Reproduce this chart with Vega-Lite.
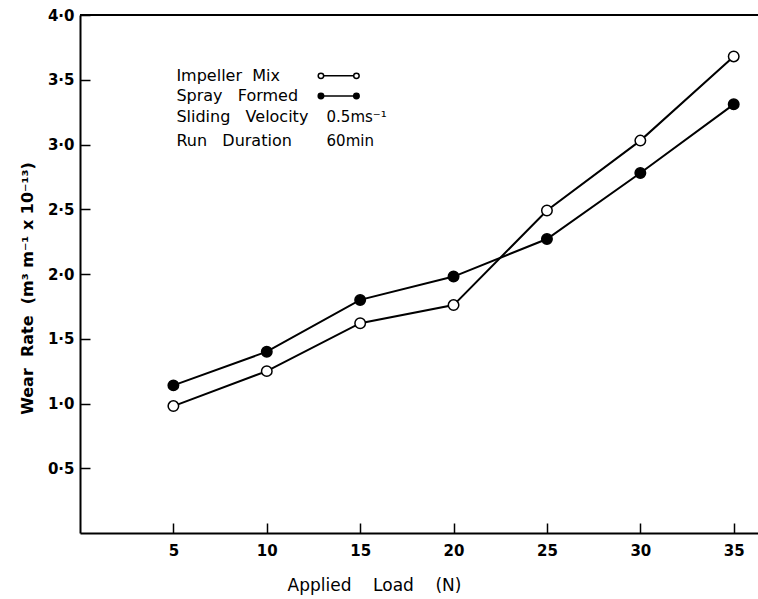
{
  "$schema": "https://vega.github.io/schema/vega-lite/v6.json",
  "autosize": "none",
  "width": 678,
  "height": 518,
  "padding": {"left": 80, "top": 15, "right": 0, "bottom": 66},
  "background": "white",
  "config": {
    "view": {"stroke": null},
    "font": "DejaVu Sans"
  },
  "datasets": {
    "wear": [
      {"load": 5, "wear": 0.98, "series": "Impeller Mix"},
      {"load": 10, "wear": 1.25, "series": "Impeller Mix"},
      {"load": 15, "wear": 1.62, "series": "Impeller Mix"},
      {"load": 20, "wear": 1.76, "series": "Impeller Mix"},
      {"load": 25, "wear": 2.49, "series": "Impeller Mix"},
      {"load": 30, "wear": 3.03, "series": "Impeller Mix"},
      {"load": 35, "wear": 3.68, "series": "Impeller Mix"},
      {"load": 5, "wear": 1.14, "series": "Spray Formed"},
      {"load": 10, "wear": 1.40, "series": "Spray Formed"},
      {"load": 15, "wear": 1.80, "series": "Spray Formed"},
      {"load": 20, "wear": 1.98, "series": "Spray Formed"},
      {"load": 25, "wear": 2.27, "series": "Spray Formed"},
      {"load": 30, "wear": 2.78, "series": "Spray Formed"},
      {"load": 35, "wear": 3.31, "series": "Spray Formed"}
    ],
    "one": [{"k": 1}]
  },
  "resolve": {"axis": {"x": "independent", "y": "independent"}},
  "layer": [
    {
      "data": {"name": "wear"},
      "mark": {"type": "line", "color": "black", "strokeWidth": 2},
      "encoding": {
        "x": {
          "field": "load", "type": "quantitative",
          "scale": {"domain": [0, 36.3], "nice": false, "zero": false},
          "axis": {
            "orient": "bottom",
            "values": [5, 10, 15, 20, 25, 30, 35],
            "title": "Applied\u00a0\u00a0\u00a0\u00a0Load\u00a0\u00a0\u00a0\u00a0(N)",
            "titleFont": "DejaVu Sans", "titleFontSize": 17, "titleFontWeight": "normal",
            "titleColor": "black",
            "titleX": 294, "titlePadding": 19,
            "labelFont": "DejaVu Sans", "labelFontSize": 15, "labelFontWeight": "bold",
            "labelColor": "black",
            "ticks": false,
            "labelPadding": 10,
            "domainColor": "black", "domainWidth": 2,
            "grid": false, "labelFlush": false
          }
        },
        "y": {
          "field": "wear", "type": "quantitative",
          "scale": {"domain": [0, 4], "nice": false},
          "axis": {
            "orient": "left",
            "values": [0.5, 1, 1.5, 2, 2.5, 3, 3.5, 4],
            "labelExpr": "replace(format(datum.value, '.1f'), '.', '·')",
            "title": "Wear\u00a0\u00a0Rate\u00a0\u00a0(m³\u00a0m⁻¹\u00a0x\u00a010⁻¹³)",
            "titleFont": "DejaVu Sans", "titleFontSize": 16, "titleFontWeight": "bold",
            "titleColor": "black",
            "titleX": -53, "titleY": 273, "titleBaseline": "middle", "titleAngle": -90, "titleAlign": "center",
            "labelFont": "DejaVu Sans", "labelFontSize": 15, "labelFontWeight": "bold",
            "labelColor": "black",
            "ticks": false,
            "labelPadding": 6,
            "domainColor": "black", "domainWidth": 2,
            "grid": false, "labelFlush": false
          }
        },
        "detail": {"field": "series"}
      }
    },
    {
      "data": {"name": "wear"},
      "mark": {"type": "point", "filled": true, "stroke": "black", "strokeWidth": 1.5, "size": 110, "opacity": 1},
      "encoding": {
        "x": {
          "field": "load", "type": "quantitative",
          "axis": {
            "orient": "top", "offset": -518,
            "values": [5, 10, 15, 20, 25, 30, 35],
            "labels": false, "domain": false, "title": null, "grid": false,
            "ticks": true, "tickSize": 10, "tickColor": "black", "tickWidth": 1.5
          }
        },
        "y": {
          "field": "wear", "type": "quantitative",
          "axis": {
            "orient": "right", "offset": -678,
            "values": [0.5, 1, 1.5, 2, 2.5, 3, 3.5, 4],
            "labels": false, "domain": false, "title": null, "grid": false,
            "ticks": true, "tickSize": 10, "tickColor": "black", "tickWidth": 1.5
          }
        },
        "fill": {
          "field": "series", "type": "nominal",
          "scale": {"domain": ["Impeller Mix", "Spray Formed"], "range": ["white", "black"]},
          "legend": null
        }
      }
    },
    {
      "data": {"name": "one"},
      "mark": {"type": "rule", "color": "black", "strokeWidth": 2},
      "encoding": {"y": {"datum": 4, "axis": null}, "x": {"datum": 0, "axis": null}, "x2": {"datum": 36.3}}
    },
    {
      "data": {"name": "one"},
      "mark": {"type": "text", "align": "left", "baseline": "middle", "fontSize": 16, "font": "DejaVu Sans", "color": "black"},
      "encoding": {"x": {"datum": 5.16, "axis": null}, "y": {"datum": 3.53, "axis": null}, "text": {"value": "Impeller\u00a0\u00a0Mix"}}
    },
    {
      "data": {"name": "one"},
      "mark": {"type": "text", "align": "left", "baseline": "middle", "fontSize": 16, "font": "DejaVu Sans", "color": "black"},
      "encoding": {"x": {"datum": 5.16, "axis": null}, "y": {"datum": 3.375, "axis": null}, "text": {"value": "Spray\u00a0\u00a0\u00a0Formed"}}
    },
    {
      "data": {"name": "one"},
      "mark": {"type": "text", "align": "left", "baseline": "middle", "fontSize": 16, "font": "DejaVu Sans", "color": "black"},
      "encoding": {"x": {"datum": 5.16, "axis": null}, "y": {"datum": 3.21, "axis": null}, "text": {"value": "Sliding\u00a0\u00a0\u00a0Velocity"}}
    },
    {
      "data": {"name": "one"},
      "mark": {"type": "text", "align": "left", "baseline": "middle", "fontSize": 16, "font": "DejaVu Sans", "color": "black"},
      "encoding": {"x": {"datum": 5.16, "axis": null}, "y": {"datum": 3.03, "axis": null}, "text": {"value": "Run\u00a0\u00a0\u00a0Duration"}}
    },
    {
      "data": {"name": "one"},
      "mark": {"type": "text", "align": "left", "baseline": "middle", "fontSize": 15, "font": "DejaVu Sans", "color": "black"},
      "encoding": {"x": {"datum": 13.2, "axis": null}, "y": {"datum": 3.21, "axis": null}, "text": {"value": "0.5ms⁻¹"}}
    },
    {
      "data": {"name": "one"},
      "mark": {"type": "text", "align": "left", "baseline": "middle", "fontSize": 15, "font": "DejaVu Sans", "color": "black"},
      "encoding": {"x": {"datum": 13.2, "axis": null}, "y": {"datum": 3.03, "axis": null}, "text": {"value": "60min"}}
    },
    {
      "data": {"name": "one"},
      "mark": {"type": "rule", "color": "black", "strokeWidth": 1.5},
      "encoding": {"x": {"datum": 12.9, "axis": null}, "x2": {"datum": 14.8}, "y": {"datum": 3.53, "axis": null}}
    },
    {
      "data": {"name": "one"},
      "mark": {"type": "rule", "color": "black", "strokeWidth": 1.5},
      "encoding": {"x": {"datum": 12.9, "axis": null}, "x2": {"datum": 14.8}, "y": {"datum": 3.375, "axis": null}}
    },
    {
      "data": {"name": "one"},
      "mark": {"type": "point", "filled": true, "fill": "white", "stroke": "black", "strokeWidth": 1.5, "size": 30, "opacity": 1},
      "encoding": {"x": {"datum": 12.9, "axis": null}, "y": {"datum": 3.53, "axis": null}}
    },
    {
      "data": {"name": "one"},
      "mark": {"type": "point", "filled": true, "fill": "white", "stroke": "black", "strokeWidth": 1.5, "size": 30, "opacity": 1},
      "encoding": {"x": {"datum": 14.8, "axis": null}, "y": {"datum": 3.53, "axis": null}}
    },
    {
      "data": {"name": "one"},
      "mark": {"type": "point", "filled": true, "fill": "black", "stroke": "black", "strokeWidth": 1.5, "size": 30, "opacity": 1},
      "encoding": {"x": {"datum": 12.9, "axis": null}, "y": {"datum": 3.375, "axis": null}}
    },
    {
      "data": {"name": "one"},
      "mark": {"type": "point", "filled": true, "fill": "black", "stroke": "black", "strokeWidth": 1.5, "size": 30, "opacity": 1},
      "encoding": {"x": {"datum": 14.8, "axis": null}, "y": {"datum": 3.375, "axis": null}}
    }
  ]
}
